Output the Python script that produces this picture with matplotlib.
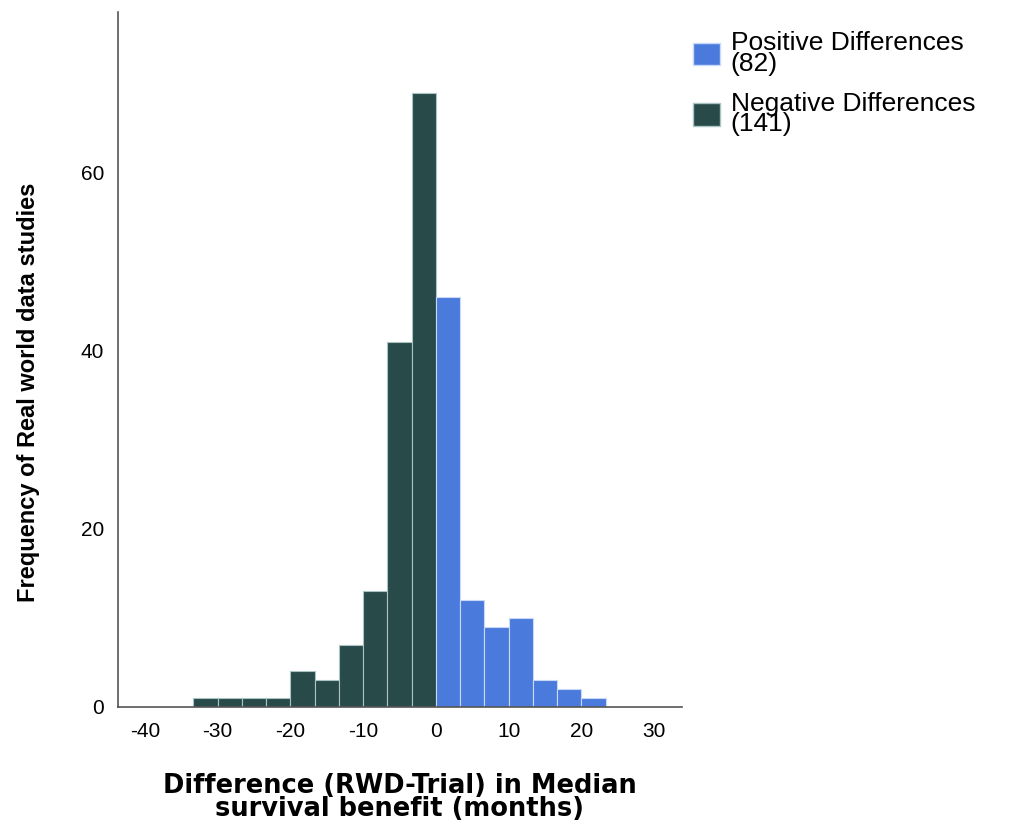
import numpy as np
import matplotlib
matplotlib.use('Agg')
import matplotlib.pyplot as plt
from matplotlib.patches import Patch

plt.rcParams['axes.unicode_minus'] = False

# Histogram counts (bin width 10/3 months)
neg_counts = [1, 1, 1, 1, 4, 3, 7, 13, 41, 69]   # bins from -33.3 up to 0
pos_counts = [46, 12, 9, 10, 3, 2, 1]            # bins from 0 up to 23.3
legend_labels = ['Positive Differences\n(82)', 'Negative Differences\n(141)']
x_ticks = [-40, -30, -20, -10, 0, 10, 20, 30]
y_ticks = [0, 20, 40, 60]

bin_width = 10 / 3
pos_color = '#4a7bdc'
neg_color = '#284a49'

fig = plt.figure(figsize=(10.12, 8.24), dpi=100)
ax = fig.add_axes([0.1166, 0.142, 0.557, 0.843])

neg_edges = -bin_width * np.arange(len(neg_counts), 0, -1)
pos_edges = bin_width * np.arange(len(pos_counts))
ax.bar(neg_edges, neg_counts, width=bin_width, align='edge', color=neg_color,
       edgecolor='#a9c4c2', linewidth=0.8)
ax.bar(pos_edges, pos_counts, width=bin_width, align='edge', color=pos_color,
       edgecolor='#c8d8f6', linewidth=0.8)

ax.set_xlim(-43.7, 33.8)
ax.set_ylim(0, 78)
ax.set_xticks(x_ticks)
ax.set_yticks(y_ticks)
ax.tick_params(length=0, labelsize=15)
ax.tick_params(axis='x', pad=11)
ax.tick_params(axis='y', pad=10)
for lab in ax.get_xticklabels() + ax.get_yticklabels():
    lab.set_family('Liberation Sans')

for side in ['top', 'right']:
    ax.spines[side].set_visible(False)
for side in ['left', 'bottom']:
    ax.spines[side].set_color('#555555')
    ax.spines[side].set_linewidth(1.2)

ax.set_xlabel('Difference (RWD-Trial) in Median\nsurvival benefit (months)',
              fontsize=18.5, fontweight='bold', family='DejaVu Sans',
              labelpad=23, linespacing=0.82)
fig.text(0.028, 0.524, 'Frequency of Real world data studies', rotation=90,
         ha='center', va='center', fontsize=17, fontweight='bold',
         family=['Liberation Sans Narrow', 'Liberation Sans'])

handles = [Patch(facecolor=pos_color, edgecolor='#c8d8f6'),
           Patch(facecolor=neg_color, edgecolor='#a9c4c2')]
fig.legend(handles, legend_labels, loc='upper left', bbox_to_anchor=(0.685, 0.962),
           frameon=False, prop={'family': 'Liberation Sans', 'size': 19},
           handlelength=1.02, handleheight=0.95, handletextpad=0.4,
           labelspacing=0.6, borderaxespad=0, borderpad=0)
for t in fig.legends[0].get_texts():
    t.set_linespacing(0.82)

fig.savefig('out.png', dpi=100)
